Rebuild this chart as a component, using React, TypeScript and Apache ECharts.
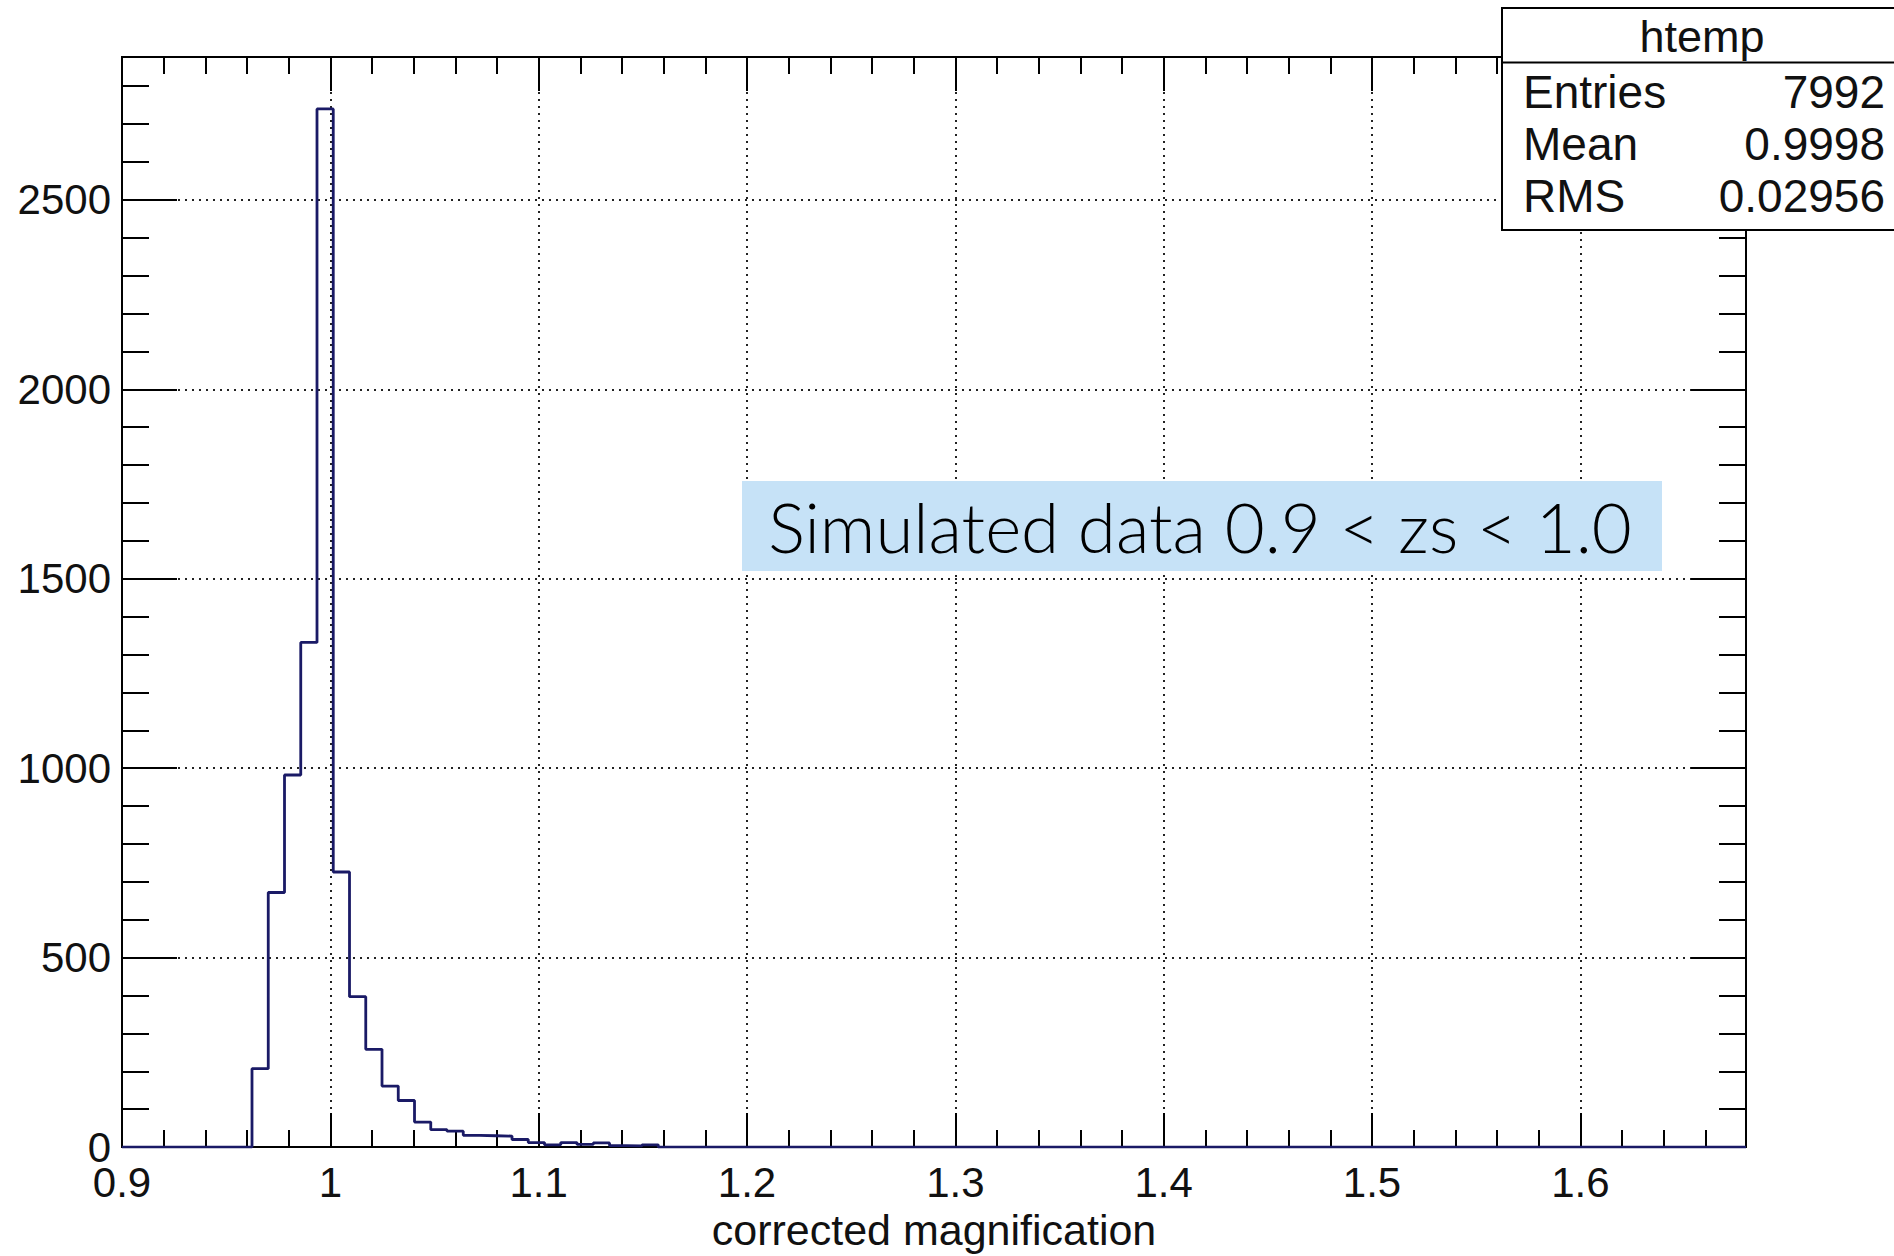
import React, { useEffect, useRef } from "react";
import * as echarts from "echarts";

// ---- Data ----
const BIN_LOW = 0.9;
const BIN_WIDTH = 0.0078;
const BIN_COUNTS = [
  0, 0, 0, 0, 0, 0, 0, 0,
  207, 672, 982, 1332, 2740, 726, 397, 258, 161, 123, 66, 46,
  42, 31, 30, 29, 20, 12, 6, 12, 7, 11, 4, 3, 6, 0,
];
const X_MIN = 0.9;
const X_MAX = 1.6795;
const Y_MIN = 0;
const Y_MAX = 2877;
const X_TITLE = "corrected magnification";
const HIST_NAME = "htemp";
const STAT_LABELS = ["Entries", "Mean", "RMS"];
const STAT_VALUES = ["7992", "0.9998", "0.02956"];
const NOTE_TEXT = "Simulated data 0.9 < zs < 1.0";

const FONT = '"Liberation Sans", Arial, Helvetica, sans-serif';

export default function App() {
  const ref = useRef<HTMLDivElement>(null);

  useEffect(() => {
    if (!ref.current) return;
    const chart = echarts.init(ref.current, undefined, { renderer: "svg" });

    const pts: [number, number][] = [[BIN_LOW, 0]];
    BIN_COUNTS.forEach((v, i) => {
      const x0 = +(BIN_LOW + i * BIN_WIDTH).toFixed(6);
      const x1 = +(BIN_LOW + (i + 1) * BIN_WIDTH).toFixed(6);
      pts.push([x0, v]);
      pts.push([x1, v]);
    });
    pts.push([+(BIN_LOW + BIN_COUNTS.length * BIN_WIDTH).toFixed(6), 0]);
    pts.push([X_MAX, 0]);

    const grid = { left: 122, right: 148, top: 57, bottom: 99, containLabel: false };
    const lineBlack = { show: true, onZero: false, lineStyle: { color: "#000", width: 2 } };
    const dotted = { show: true, lineStyle: { color: "#222", width: 2, type: [2, 5] as any } };

    const xBase = (extra: any) => ({
      type: "value",
      min: X_MIN,
      max: X_MAX,
      gridIndex: 0,
      axisLine: lineBlack,
      splitLine: { show: false },
      axisLabel: { show: false },
      ...extra,
    });
    const yBase = (extra: any) => ({
      type: "value",
      min: Y_MIN,
      max: Y_MAX,
      gridIndex: 0,
      axisLine: lineBlack,
      splitLine: { show: false },
      axisLabel: { show: false },
      ...extra,
    });

    chart.setOption({
      animation: false,
      backgroundColor: "#fff",
      grid,
      xAxis: [
        xBase({
          position: "bottom",
          interval: 0.1,
          axisTick: { show: true, inside: true, length: 34, lineStyle: { color: "#000", width: 2 } },
          axisLabel: {
            show: true,
            showMaxLabel: false,
            fontSize: 42,
            fontFamily: FONT,
            color: "#111",
            margin: 14,
            formatter: (v: number) => String(+v.toFixed(2)),
          },
          splitLine: dotted,
          name: X_TITLE,
          nameLocation: "middle",
          nameGap: 57,
          nameTextStyle: { fontSize: 43, fontFamily: FONT, color: "#111" },
        }),
        xBase({
          position: "bottom",
          interval: 0.02,
          axisTick: { show: true, inside: true, length: 17, lineStyle: { color: "#000", width: 2 } },
        }),
        xBase({
          position: "top",
          interval: 0.1,
          axisTick: { show: true, inside: true, length: 34, lineStyle: { color: "#000", width: 2 } },
        }),
        xBase({
          position: "top",
          interval: 0.02,
          axisTick: { show: true, inside: true, length: 17, lineStyle: { color: "#000", width: 2 } },
        }),
      ],
      yAxis: [
        yBase({
          position: "left",
          interval: 500,
          axisTick: { show: true, inside: true, length: 55, lineStyle: { color: "#000", width: 2 } },
          axisLabel: {
            show: true,
            showMaxLabel: false,
            fontSize: 42,
            fontFamily: FONT,
            color: "#111",
            margin: 11,
            formatter: (v: number) => String(v),
          },
          splitLine: dotted,
        }),
        yBase({
          position: "left",
          interval: 100,
          axisTick: { show: true, inside: true, length: 27, lineStyle: { color: "#000", width: 2 } },
        }),
        yBase({
          position: "right",
          interval: 500,
          axisTick: { show: true, inside: true, length: 55, lineStyle: { color: "#000", width: 2 } },
        }),
        yBase({
          position: "right",
          interval: 100,
          axisTick: { show: true, inside: true, length: 27, lineStyle: { color: "#000", width: 2 } },
        }),
      ],
      series: [
        {
          name: HIST_NAME,
          type: "line",
          xAxisIndex: 0,
          yAxisIndex: 0,
          data: pts,
          symbol: "none",
          lineStyle: { color: "#1a1a66", width: 2.8 },
          z: 5,
        },
      ],
      graphic: [
        {
          type: "rect",
          z: 50,
          shape: { x: 742, y: 481, width: 920, height: 90 },
          style: { fill: "#c6e2f7" },
        },
        {
          type: "text",
          z: 51,
          x: 1200,
          y: 526,
          style: {
            text: NOTE_TEXT,
            fontSize: 69,
            fontWeight: 300,
            fontFamily: "Lato, 'Open Sans', sans-serif",
            fill: "#000",
            align: "center",
            verticalAlign: "middle",
          },
        },
        {
          type: "rect",
          z: 60,
          shape: { x: 1502, y: 8, width: 420, height: 222 },
          style: { fill: "#fff", stroke: "#000", lineWidth: 2 },
        },
        {
          type: "line",
          z: 61,
          shape: { x1: 1502, y1: 62.5, x2: 1900, y2: 62.5 },
          style: { stroke: "#000", lineWidth: 2 },
        },
        {
          type: "text",
          z: 62,
          x: 1702,
          y: 36,
          style: {
            text: HIST_NAME,
            fontSize: 45,
            fontFamily: FONT,
            fill: "#111",
            align: "center",
            verticalAlign: "middle",
          },
        },
        ...STAT_LABELS.map((t, i) => ({
          type: "text",
          z: 62,
          x: 1523,
          y: 92 + i * 52,
          style: {
            text: t,
            fontSize: 46,
            fontFamily: FONT,
            fill: "#111",
            align: "left",
            verticalAlign: "middle",
          },
        })),
        ...STAT_VALUES.map((t, i) => ({
          type: "text",
          z: 62,
          x: 1885,
          y: 92 + i * 52,
          style: {
            text: t,
            fontSize: 46,
            fontFamily: FONT,
            fill: "#111",
            align: "right",
            verticalAlign: "middle",
          },
        })),
      ],
    });

    return () => chart.dispose();
  }, []);

  return (
    <div
      ref={ref}
      style={{ position: "fixed", left: 0, top: 0, width: 1894, height: 1256, background: "#fff" }}
    />
  );
}
